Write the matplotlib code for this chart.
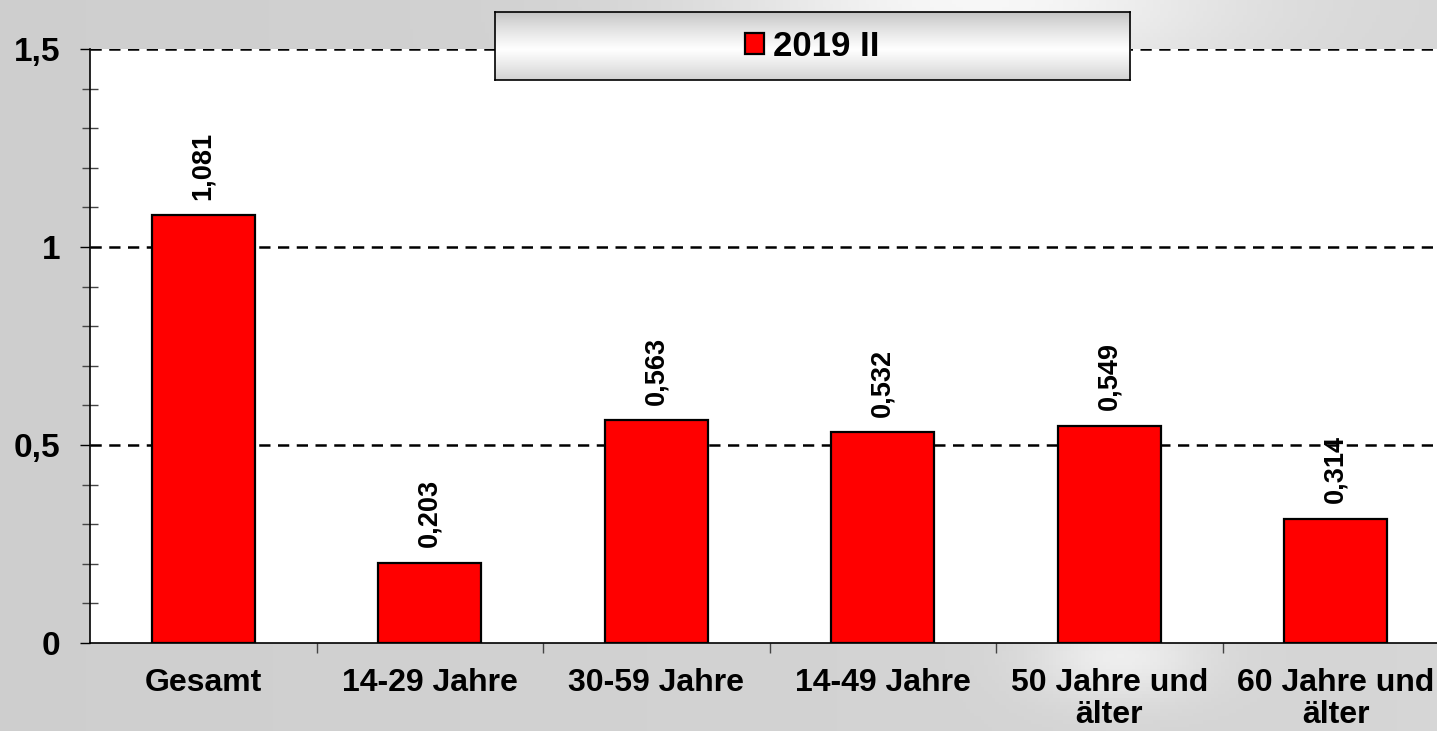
import numpy as np
import matplotlib
matplotlib.use("Agg")
import matplotlib.pyplot as plt
from matplotlib.ticker import FixedLocator

plt.rcParams['font.family'] = ['Liberation Sans', 'DejaVu Sans']
plt.rcParams['font.weight'] = 'bold'

categories = ['Gesamt', '14-29 Jahre', '30-59 Jahre', '14-49 Jahre',
              '50 Jahre und\nälter', '60 Jahre und\nälter']
values = [1.081, 0.203, 0.563, 0.532, 0.549, 0.314]
series_name = '2019 II'
yticks = [0, 0.5, 1, 1.5]
ytick_labels = ['0', '0,5', '1', '1,5']

W, H = 1437, 731
fig = plt.figure(figsize=(W / 100, H / 100), dpi=100)

# grey background with soft light areas
bg = fig.add_axes([0, 0, 1, 1], zorder=-10)
yy, xx = np.mgrid[0:1:200j, 0:1:400j]
shade = 0.81 + 0.03 * xx
shade += 0.14 * np.exp(-(((xx - 0.68) / 0.18) ** 2 + ((yy - 0.0) / 0.12) ** 2))
shade += 0.10 * np.exp(-(((xx - 0.78) / 0.06) ** 2 + ((yy - 0.9) / 0.06) ** 2))
shade = np.clip(shade, 0, 1)
bg.imshow(np.dstack([shade] * 3), aspect='auto', extent=[0, 1, 1, 0])
bg.set_axis_off()

ax = fig.add_axes([90 / W, 88 / H, 1359 / W, 594 / H])
ax.set_facecolor('white')
x = np.arange(len(categories))
bars = ax.bar(x, values, width=0.455, color='#ff0000', edgecolor='black',
              linewidth=1.6, zorder=3, label=series_name)

for xi, v in zip(x, values):
    ax.annotate(f'{v:.3f}'.replace('.', ','), (xi, v), xytext=(0, 11),
                textcoords='offset points', rotation=90, ha='center',
                va='bottom', fontsize=19.5, fontweight='bold')

for g in yticks[1:]:
    ax.axhline(g, color='black', lw=1.8, ls=(0, (4.5, 3)), zorder=2)

ax.set_xlim(-0.5, len(categories) - 0.5)
ax.set_ylim(0, 1.5)
ax.set_yticks(yticks)
ax.set_yticklabels(ytick_labels, fontsize=24, fontweight='bold')
ax.yaxis.set_minor_locator(FixedLocator([0.1, 0.2, 0.3, 0.4, 0.6, 0.7, 0.8, 0.9,
                                         1.1, 1.2, 1.3, 1.4]))
ax.tick_params(axis='y', which='major', length=7.5, width=1, direction='out',
               pad=14, colors='black')
ax.tick_params(axis='y', which='minor', length=11, width=1, direction='inout',
               color='#444444')

ax.set_xticks(x)
ax.set_xticklabels(categories, fontsize=23, fontweight='bold', linespacing=1.1)
ax.xaxis.set_minor_locator(FixedLocator(np.arange(0.5, len(categories) - 0.5, 1)))
ax.tick_params(axis='x', which='major', length=0, pad=18)
ax.tick_params(axis='x', which='minor', length=7, width=1, direction='out',
               color='#444444')

for s in ['top', 'right']:
    ax.spines[s].set_visible(False)
for s in ['left', 'bottom']:
    ax.spines[s].set_linewidth(1.2)

# legend box with grey-white gradient
lax = fig.add_axes([495 / W, (H - 80) / H, 635 / W, 68 / H], zorder=5)
t = np.linspace(0, 1, 100)
grad = 0.76 + 0.24 * np.clip(1 - np.abs(t - 0.55) / 0.55, 0, 1) ** 0.8
lax.imshow(np.dstack([grad[:, None] * np.ones((1, 10))] * 3), aspect='auto',
           extent=[0, 1, 0, 1])
lax.set_xticks([])
lax.set_yticks([])
for s in lax.spines.values():
    s.set_linewidth(1.2)
lax.legend([bars], [series_name], loc='center', frameon=False,
           prop={'size': 25, 'weight': 'bold'}, handlelength=0.55,
           handleheight=0.55, handletextpad=0.25, borderaxespad=0)

fig.savefig('out.png', dpi=100)
